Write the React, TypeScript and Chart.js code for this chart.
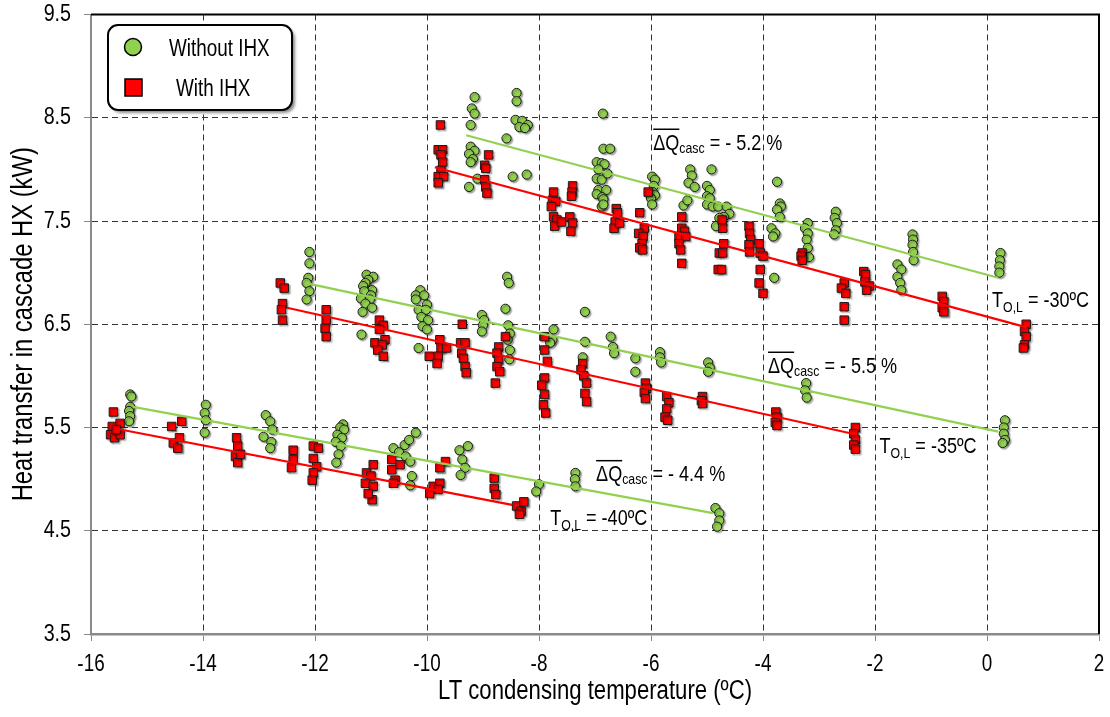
import React, { useEffect, useRef } from "react";
import { Chart, registerables } from "chart.js";

Chart.register(...registerables);

const FONT = '"Liberation Sans", Arial, sans-serif';
const SQUEEZE = 0.82; // horizontal compression to mimic a narrow face

// ---------- axis ticks ----------
const xTicks = [-16, -14, -12, -10, -8, -6, -4, -2, 0, 2];
const yTicks = [3.5, 4.5, 5.5, 6.5, 7.5, 8.5, 9.5];

// ---------- series: T_O,L = -30 ºC ----------
const without30: [number, number][] = [
  [-9.15, 8.7], [-9.2, 8.59], [-9.15, 8.54], [-9.22, 8.43], [-9.22, 8.22], [-9.15, 8.18], [-9.25, 8.15], [-9.18, 8.1], [-9.22, 8.07], [-9.1, 7.91], [-9.25, 7.83],
  [-8.58, 8.3], [-8.4, 8.74], [-8.4, 8.66], [-8.42, 8.48], [-8.3, 8.47], [-8.2, 8.43], [-8.35, 8.41], [-8.25, 8.4], [-8.47, 7.93], [-8.22, 7.95],
  [-6.86, 8.54], [-6.85, 8.2], [-6.73, 8.2], [-6.97, 8.07], [-6.88, 8.06], [-6.83, 8.05], [-6.94, 8.0], [-6.97, 7.91], [-6.88, 7.9], [-6.78, 7.96], [-6.94, 7.8], [-6.97, 7.76], [-6.8, 7.8], [-6.87, 7.73], [-6.85, 7.71], [-6.88, 7.64], [-6.85, 7.66],
  [-5.98, 7.93], [-5.93, 7.9], [-5.95, 7.84], [-5.97, 7.78], [-5.93, 7.75], [-6.0, 7.72], [-5.98, 7.66],
  [-5.3, 8.0], [-5.27, 7.94], [-5.33, 7.87], [-5.22, 7.83], [-5.42, 7.65], [-5.35, 7.7],
  [-4.92, 8.0], [-5.0, 7.84], [-4.95, 7.8], [-5.0, 7.74], [-4.95, 7.72], [-5.0, 7.66], [-4.9, 7.64],
  [-4.8, 7.64], [-4.65, 7.64], [-4.6, 7.57], [-4.7, 7.54], [-4.78, 7.53], [-4.84, 7.45],
  [-3.75, 7.88], [-3.7, 7.67], [-3.68, 7.64], [-3.75, 7.61], [-3.7, 7.54], [-3.85, 7.43], [-3.78, 7.38], [-3.82, 7.35], [-3.8, 6.95],
  [-3.2, 7.48], [-3.25, 7.43], [-3.2, 7.38], [-3.22, 7.32], [-3.2, 7.24], [-3.18, 7.15],
  [-2.7, 7.59], [-2.72, 7.53], [-2.68, 7.48], [-2.7, 7.41], [-2.73, 7.37],
  [-1.33, 7.37], [-1.32, 7.32], [-1.33, 7.27], [-1.32, 7.2], [-1.31, 7.12],
  [-1.6, 7.08], [-1.53, 7.03], [-1.6, 6.96], [-1.55, 6.9], [-1.53, 6.83],
  [0.24, 7.19], [0.23, 7.12], [0.22, 7.06], [0.22, 7.0],
];
const with30: [number, number][] = [
  [-9.76, 8.43], [-9.8, 8.19], [-9.72, 8.19], [-9.75, 8.14], [-9.72, 8.07], [-9.75, 7.99], [-9.8, 7.93], [-9.7, 7.93], [-9.8, 7.87],
  [-8.9, 8.14], [-8.97, 8.04], [-8.95, 8.01], [-8.97, 7.9], [-8.95, 7.83], [-8.93, 7.77],
  [-7.74, 7.78], [-7.76, 7.7], [-7.7, 7.69], [-7.78, 7.64], [-7.74, 7.54], [-7.68, 7.51], [-7.72, 7.45], [-7.6, 7.49],
  [-7.4, 7.84], [-7.41, 7.78], [-7.42, 7.74], [-7.45, 7.54], [-7.4, 7.48], [-7.43, 7.4],
  [-6.62, 7.62], [-6.6, 7.58], [-6.64, 7.49], [-6.66, 7.43], [-6.56, 7.48],
  [-6.05, 7.78], [-6.2, 7.58], [-6.12, 7.43], [-6.22, 7.38], [-6.14, 7.35], [-6.16, 7.28], [-6.2, 7.24], [-6.15, 7.22],
  [-5.45, 7.54], [-5.45, 7.43], [-5.4, 7.4], [-5.5, 7.35], [-5.38, 7.35], [-5.5, 7.28], [-5.47, 7.22], [-5.45, 7.09],
  [-4.73, 7.51], [-4.72, 7.43], [-4.7, 7.28], [-4.78, 7.19], [-4.72, 7.19], [-4.8, 7.03], [-4.74, 7.03],
  [-4.25, 7.45], [-4.24, 7.38], [-4.22, 7.32], [-4.25, 7.27], [-4.24, 7.2], [-4.07, 7.28], [-4.05, 7.19], [-4.0, 7.16], [-4.05, 7.03], [-4.07, 6.9], [-4.0, 6.8],
  [-3.3, 7.19], [-3.32, 7.16], [-3.3, 7.12],
  [-2.55, 6.9], [-2.6, 6.85], [-2.52, 6.8], [-2.55, 6.67], [-2.55, 6.54],
  [-2.2, 7.01], [-2.17, 6.98], [-2.18, 6.91], [-2.1, 6.87], [-2.15, 6.83],
  [-0.8, 6.77], [-0.77, 6.72], [-0.8, 6.66], [-0.77, 6.62],
  [0.7, 6.5], [0.67, 6.43], [0.7, 6.38], [0.67, 6.3], [0.65, 6.27],
];

// ---------- series: T_O,L = -35 ºC ----------
const without35: [number, number][] = [
  [-12.1, 7.2], [-12.1, 7.09], [-12.12, 6.95], [-12.15, 6.9], [-12.1, 6.82], [-12.15, 6.74],
  [-11.08, 6.98], [-10.96, 6.96], [-11.05, 6.93], [-11.1, 6.9], [-11.14, 6.87], [-10.98, 6.83], [-11.12, 6.82], [-11.0, 6.78], [-11.18, 6.75], [-11.02, 6.74], [-11.1, 6.7], [-10.98, 6.66], [-11.15, 6.62], [-11.17, 6.4],
  [-10.12, 6.83], [-10.2, 6.78], [-10.05, 6.78], [-10.2, 6.74], [-10.0, 6.69], [-10.15, 6.64], [-10.02, 6.64], [-10.1, 6.57], [-9.98, 6.54], [-10.08, 6.48], [-10.0, 6.45], [-10.15, 6.27],
  [-9.02, 6.59], [-8.98, 6.54], [-9.0, 6.49], [-9.02, 6.43],
  [-8.57, 6.96], [-8.54, 6.9], [-8.6, 6.65], [-8.55, 6.49], [-8.52, 6.41], [-8.56, 6.35], [-8.52, 6.25], [-8.53, 6.16],
  [-7.74, 6.45], [-7.76, 6.35], [-7.8, 6.32],
  [-7.18, 6.62], [-7.18, 6.33], [-7.22, 6.18],
  [-6.72, 6.38], [-6.68, 6.28], [-6.66, 6.22],
  [-6.28, 6.17], [-6.28, 6.04],
  [-5.84, 6.23], [-5.84, 6.18], [-5.82, 6.13],
  [-4.98, 6.13], [-4.95, 6.08], [-4.98, 6.04],
  [-3.23, 5.93], [-3.25, 5.86], [-3.22, 5.79],
  [0.32, 5.57], [0.3, 5.5], [0.3, 5.44], [0.32, 5.38], [0.28, 5.35],
];
const with35: [number, number][] = [
  [-12.62, 6.9], [-12.55, 6.85], [-12.58, 6.7], [-12.6, 6.64], [-12.58, 6.54],
  [-11.8, 6.64], [-11.8, 6.54], [-11.82, 6.46], [-11.8, 6.38],
  [-10.85, 6.54], [-10.78, 6.49], [-10.85, 6.45], [-10.75, 6.35], [-10.93, 6.32], [-10.8, 6.3], [-10.88, 6.25], [-10.78, 6.19],
  [-9.37, 6.5],
  [-9.77, 6.35], [-9.75, 6.27], [-9.96, 6.19], [-9.8, 6.19], [-9.82, 6.12], [-9.65, 6.27],
  [-9.4, 6.32], [-9.32, 6.32], [-9.38, 6.22], [-9.35, 6.17], [-9.32, 6.09], [-9.3, 6.03],
  [-8.6, 6.38], [-8.72, 6.28], [-8.75, 6.22], [-8.72, 6.16], [-8.75, 6.09], [-8.7, 6.04], [-8.78, 5.93],
  [-7.9, 6.38], [-7.9, 6.25], [-7.85, 6.14], [-7.9, 5.98], [-7.95, 5.91], [-7.9, 5.82], [-7.92, 5.72], [-7.88, 5.64],
  [-7.22, 6.12], [-7.25, 6.06], [-7.2, 6.0], [-7.15, 5.93], [-7.18, 5.83], [-7.15, 5.75],
  [-6.1, 5.93], [-6.08, 5.88], [-6.12, 5.84], [-6.1, 5.78],
  [-5.72, 5.8], [-5.68, 5.74], [-5.72, 5.68], [-5.75, 5.6], [-5.7, 5.57],
  [-5.08, 5.8], [-5.1, 5.76], [-5.08, 5.73],
  [-3.77, 5.65], [-3.75, 5.6], [-3.78, 5.55], [-3.75, 5.52],
  [-2.35, 5.5], [-2.38, 5.44], [-2.35, 5.38], [-2.38, 5.33], [-2.35, 5.29],
];

// ---------- series: T_O,L = -40 ºC ----------
const without40: [number, number][] = [
  [-15.3, 5.82], [-15.28, 5.8], [-15.3, 5.7], [-15.32, 5.66], [-15.3, 5.61], [-15.32, 5.56],
  [-13.95, 5.72], [-13.97, 5.64], [-13.95, 5.57], [-13.97, 5.45],
  [-12.88, 5.62], [-12.8, 5.56], [-12.76, 5.48], [-12.92, 5.41], [-12.78, 5.36], [-12.8, 5.3],
  [-11.5, 5.53], [-11.55, 5.5], [-11.48, 5.48], [-11.6, 5.43], [-11.52, 5.4], [-11.63, 5.36], [-11.54, 5.32], [-11.58, 5.24], [-11.62, 5.16],
  [-10.6, 5.3], [-10.4, 5.33], [-10.32, 5.38], [-10.2, 5.45], [-10.5, 5.26], [-10.38, 5.22], [-10.3, 5.17], [-10.27, 5.03], [-10.3, 4.94],
  [-9.42, 5.28], [-9.27, 5.32], [-9.37, 5.19], [-9.32, 5.11], [-9.4, 5.04],
  [-8.0, 4.95], [-8.05, 4.88],
  [-7.35, 5.06], [-7.36, 5.0], [-7.35, 4.93],
  [-4.85, 4.72], [-4.78, 4.67], [-4.78, 4.6], [-4.82, 4.54],
];
const with40: [number, number][] = [
  [-15.6, 5.65], [-15.62, 5.51], [-15.48, 5.54], [-15.65, 5.43], [-15.58, 5.4], [-15.48, 5.43], [-15.55, 5.48],
  [-14.56, 5.51], [-14.38, 5.56], [-14.53, 5.35], [-14.42, 5.4], [-14.45, 5.3],
  [-13.4, 5.4], [-13.38, 5.32], [-13.42, 5.22], [-13.38, 5.16], [-13.33, 5.24],
  [-12.39, 5.28], [-12.39, 5.19], [-12.42, 5.11], [-12.03, 5.32], [-11.94, 5.3], [-12.03, 5.2], [-11.97, 5.12], [-12.03, 5.06], [-12.05, 4.99],
  [-11.08, 5.06], [-10.96, 5.14], [-11.0, 5.03], [-11.1, 4.96], [-10.96, 4.93], [-10.98, 4.8], [-11.05, 4.86],
  [-10.63, 5.19], [-10.63, 5.09], [-10.57, 4.99], [-10.6, 4.96], [-10.48, 5.14],
  [-9.89, 4.93], [-9.77, 4.96], [-9.67, 5.17], [-9.77, 5.11], [-9.95, 4.86], [-9.8, 4.9],
  [-8.8, 5.01], [-8.8, 4.91], [-8.77, 4.85],
  [-8.4, 4.74], [-8.32, 4.69], [-8.35, 4.66], [-8.27, 4.78],
];

// ---------- trend lines (end points) ----------
const trendWithout30: [number, number][] = [[-9.3, 8.33], [0.2, 6.95]];
const trendWith30: [number, number][] = [[-9.86, 8.02], [0.71, 6.47]];
const trendWithout35: [number, number][] = [[-12.18, 6.9], [0.2, 5.46]];
const trendWith35: [number, number][] = [[-12.5, 6.66], [-2.32, 5.43]];
const trendWithout40: [number, number][] = [[-15.25, 5.7], [-4.89, 4.67]];
const trendWith40: [number, number][] = [[-15.57, 5.49], [-8.48, 4.75]];

// ---------- annotation texts ----------
const deltaLabels = ["5.2", "5.5", "4.4"];
const deltaAnchors: [number, number][] = [[-5.96, 8.19], [-3.91, 6.03], [-6.98, 4.98]];
const tempLabels = ["-30ºC", "-35ºC", "-40ºC"];
const tempAnchors: [number, number][] = [[0.09, 6.67], [-1.92, 5.25], [-7.8, 4.56]];

const GREEN = "#92D050";
const RED = "#FF0000";

const toPts = (a: [number, number][]) => a.map(([x, y]) => ({ x, y }));

// Make every text on this canvas a narrow face (horizontal squeeze around the anchor)
function squeezeText(ctx: CanvasRenderingContext2D) {
  const orig = ctx.fillText.bind(ctx);
  (ctx as any).fillText = (text: string, x: number, y: number) => {
    ctx.save();
    ctx.translate(x, y);
    ctx.scale(SQUEEZE, 1);
    orig(text, 0, 0);
    ctx.restore();
  };
}

// draws text (already squeezed by the patched fillText), returns advance width
function sText(ctx: CanvasRenderingContext2D, text: string, x: number, y: number, size: number) {
  ctx.font = `${size}px ${FONT}`;
  ctx.fillText(text, x, y);
  return ctx.measureText(text).width * SQUEEZE;
}

const shadowPlugin = {
  id: "pointShadow",
  beforeDatasetDraw(chart: any, args: any) {
    const ds = chart.data.datasets[args.index];
    if (!ds.shadow) return;
    const ctx = chart.ctx;
    ctx.save();
    ctx.shadowColor = "rgba(0,0,0,0.35)";
    ctx.shadowOffsetX = 1.5;
    ctx.shadowOffsetY = 1.5;
    ctx.shadowBlur = 1.5;
  },
  afterDatasetDraw(chart: any, args: any) {
    const ds = chart.data.datasets[args.index];
    if (!ds.shadow) return;
    chart.ctx.restore();
  },
};

const decorPlugin = {
  id: "decor",
  afterDatasetsDraw(chart: any) {
    const ctx = chart.ctx;
    const xs = chart.scales.x;
    const ys = chart.scales.y;
    const area = chart.chartArea;
    ctx.save();
    // top & right frame
    ctx.strokeStyle = "#000";
    ctx.lineWidth = 2;
    ctx.beginPath();
    ctx.moveTo(area.left, area.top);
    ctx.lineTo(area.right, area.top);
    ctx.lineTo(area.right, area.bottom);
    ctx.stroke();

    ctx.fillStyle = "#000";
    ctx.strokeStyle = "#000";
    ctx.textAlign = "left";
    ctx.textBaseline = "alphabetic";
    // delta Q annotations
    deltaLabels.forEach((v, i) => {
      const px = xs.getPixelForValue(deltaAnchors[i][0]);
      const py = ys.getPixelForValue(deltaAnchors[i][1]);
      const w1 = sText(ctx, "\u0394Q", px, py, 22);
      ctx.lineWidth = 1.5;
      ctx.beginPath();
      ctx.moveTo(px, py - 20.5);
      ctx.lineTo(px + w1, py - 20.5);
      ctx.stroke();
      const w2 = sText(ctx, "casc", px + w1, py + 3, 15);
      sText(ctx, ` = - ${v} %`, px + w1 + w2, py, 22);
    });
    // temperature annotations
    tempLabels.forEach((v, i) => {
      const px = xs.getPixelForValue(tempAnchors[i][0]);
      const py = ys.getPixelForValue(tempAnchors[i][1]);
      const w1 = sText(ctx, "T", px, py, 22);
      const w2 = sText(ctx, "O,L", px + w1, py + 5, 15);
      sText(ctx, ` = ${v}`, px + w1 + w2, py, 22);
    });
    ctx.restore();
  },
  afterDraw(chart: any) {
    const ctx = chart.ctx;
    ctx.save();
    // legend box
    const bx = 108, by = 25, bw = 184, bh = 85;
    ctx.shadowColor = "rgba(0,0,0,0.45)";
    ctx.shadowOffsetX = 3;
    ctx.shadowOffsetY = 3;
    ctx.shadowBlur = 3;
    ctx.fillStyle = "#fff";
    ctx.beginPath();
    ctx.roundRect(bx, by, bw, bh, 10);
    ctx.fill();
    ctx.shadowColor = "transparent";
    ctx.strokeStyle = "#000";
    ctx.lineWidth = 2;
    ctx.stroke();
    // entries
    ctx.lineWidth = 1.5;
    ctx.fillStyle = GREEN;
    ctx.beginPath();
    ctx.arc(133, 47, 8.5, 0, Math.PI * 2);
    ctx.fill();
    ctx.stroke();
    ctx.fillStyle = RED;
    ctx.fillRect(125, 79, 17, 17);
    ctx.strokeRect(125, 79, 17, 17);
    ctx.fillStyle = "#000";
    ctx.textAlign = "left";
    ctx.textBaseline = "alphabetic";
    sText(ctx, "Without IHX", 169, 56, 23);
    sText(ctx, "With IHX", 176, 96, 23);
    ctx.restore();
  },
};

const scatterDs = (data: [number, number][], color: string, square: boolean, order: number) => ({
  type: "scatter" as const,
  data: toPts(data),
  backgroundColor: color,
  borderColor: "#1a1a1a",
  borderWidth: 1,
  pointStyle: square ? "rect" : "circle",
  pointRadius: square ? 6 : 4.6,
  showLine: false,
  order,
  shadow: true,
});

const lineDs = (data: [number, number][], color: string) => ({
  type: "scatter" as const,
  data: toPts(data),
  borderColor: color,
  backgroundColor: color,
  borderWidth: 2.2,
  pointRadius: 0,
  showLine: true,
  order: 0,
});

export default function App() {
  const ref = useRef<HTMLCanvasElement | null>(null);
  useEffect(() => {
    document.body.style.margin = "0";
    const canvas = ref.current!;
    const c2d = canvas.getContext("2d")!;
    squeezeText(c2d);
    const chart = new Chart(c2d, {
      type: "scatter",
      data: {
        datasets: [
          scatterDs(without30, GREEN, false, 3),
          scatterDs(without35, GREEN, false, 3),
          scatterDs(without40, GREEN, false, 3),
          scatterDs(with30, RED, true, 2),
          scatterDs(with35, RED, true, 2),
          scatterDs(with40, RED, true, 2),
          lineDs(trendWithout30, GREEN),
          lineDs(trendWith30, RED),
          lineDs(trendWithout35, GREEN),
          lineDs(trendWith35, RED),
          lineDs(trendWithout40, GREEN),
          lineDs(trendWith40, RED),
        ] as any,
      },
      options: {
        animation: false,
        responsive: false,
        layout: { padding: { left: 0, top: 14.5, right: 11, bottom: 0 } },
        plugins: { legend: { display: false }, tooltip: { enabled: false } },
        scales: {
          x: {
            type: "linear",
            min: -16,
            max: 2,
            afterBuildTicks: (s: any) => {
              s.ticks = xTicks.map((v) => ({ value: v }));
            },
            afterFit: (s: any) => {
              s.height = 83;
              s.paddingLeft = 0;
              s.paddingRight = 0;
            },
            ticks: {
              color: "#000",
              font: { family: FONT, size: 23 },
              padding: 10,
              maxRotation: 0,
              minRotation: 0,
              autoSkip: false,
              callback: (v: any) => String(v),
            },
            grid: { color: "#333", lineWidth: 1, tickLength: 7, tickColor: "#888" },
            border: { color: "#8a8a8a", width: 2.5, dash: [6, 4] },
            title: {
              display: true,
              text: "LT condensing temperature (ºC)",
              color: "#000",
              font: { family: FONT, size: 27 },
              padding: { top: 0, bottom: 9 },
            },
          },
          y: {
            type: "linear",
            min: 3.5,
            max: 9.5,
            afterBuildTicks: (s: any) => {
              s.ticks = yTicks.map((v) => ({ value: v }));
            },
            afterFit: (s: any) => {
              s.width = 91;
              s.paddingTop = 0;
              s.paddingBottom = 0;
            },
            ticks: {
              color: "#000",
              font: { family: FONT, size: 24 },
              padding: 13,
              autoSkip: false,
              callback: (v: any) => Number(v).toFixed(1),
            },
            grid: { color: "#333", lineWidth: 1, tickLength: 7, tickColor: "#888" },
            border: { color: "#8a8a8a", width: 2, dash: [6, 4] },
            title: {
              display: true,
              text: "Heat transfer in cascade HX (kW)",
              color: "#000",
              font: { family: FONT, size: 29 },
              padding: { top: 7, bottom: 0 },
            },
          },
        },
      } as any,
      plugins: [shadowPlugin, decorPlugin],
    });
    return () => chart.destroy();
  }, []);
  return (
    <div style={{ width: 1110, height: 717, background: "#fff" }}>
      <canvas ref={ref} width={1110} height={717} style={{ display: "block" }} />
    </div>
  );
}
